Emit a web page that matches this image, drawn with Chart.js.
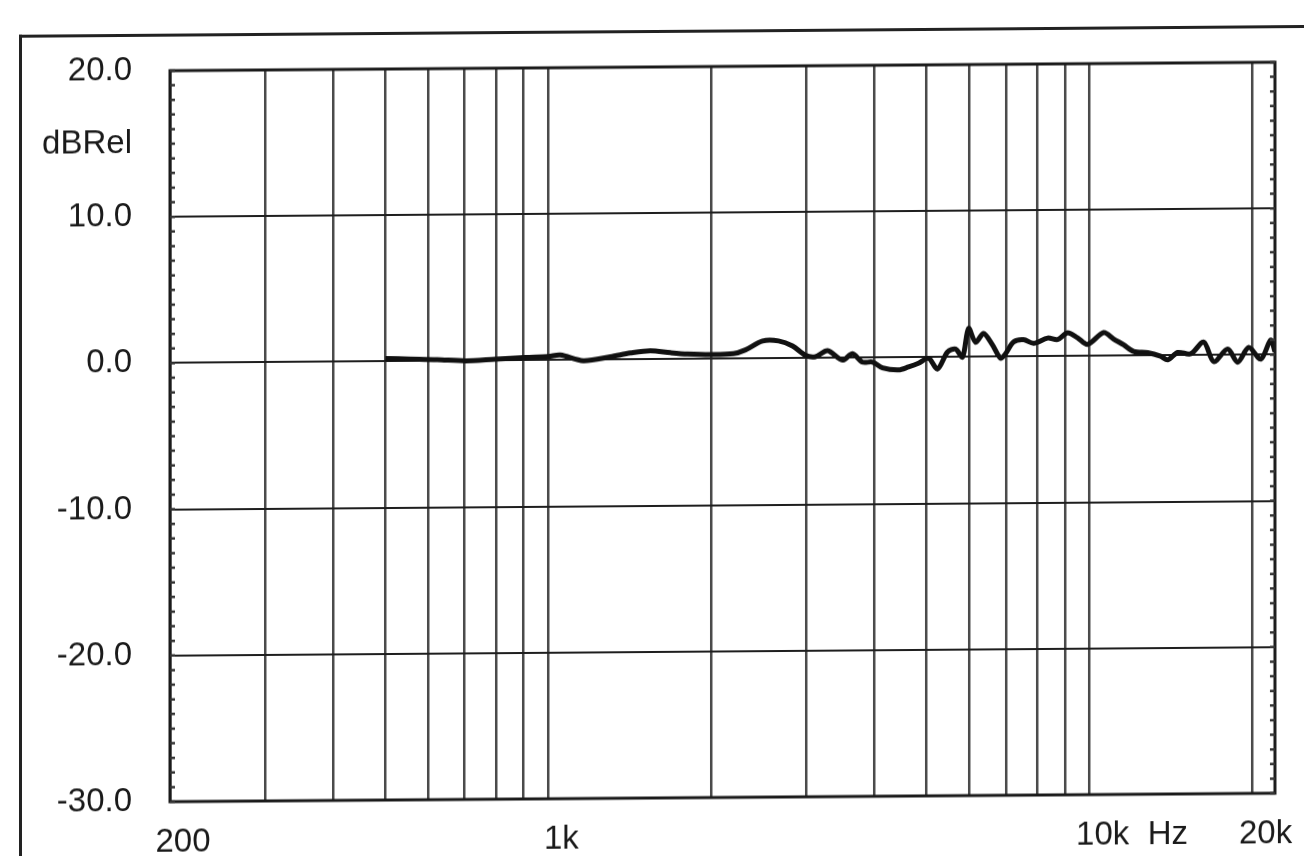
<!DOCTYPE html>
<html>
<head>
<meta charset="utf-8">
<script src="https://cdn.jsdelivr.net/npm/chart.js@4"></script>
<style>
  html, body { margin: 0; padding: 0; background: #fff; overflow: hidden; }
  #wrap {
    position: relative;
    width: 1304px;
    height: 856px;
    transform: skewY(-0.44deg);
    transform-origin: 652px 428px;
  }
  #frame {
    position: absolute;
    left: 19px;
    top: 30px;
    width: 1300px;
    height: 840px;
    border-left: 3px solid #222;
    border-top: 3px solid #222;
  }
  #myChart { position: absolute; left: 0; top: 0; }
</style>
</head>
<body>
<div id="wrap">
  <div id="frame"></div>
  <canvas id="myChart" width="1304" height="856"></canvas>
</div>
<script>
// Frequency response, Hz vs dBRel
const freqs = [
  500, 556, 623, 703, 798, 907, 1000, 1052, 1160, 1302, 1418, 1543, 1681, 1807, 1993,
  2198, 2313, 2487, 2662, 2825, 2986, 3116, 3280, 3495, 3647, 3805, 3972,
  4144, 4436, 4628, 4830, 5040, 5236, 5465, 5653, 5824, 5975, 6157, 6368,
  6617, 6846, 6993, 7235, 7551, 7880, 8364, 8728, 9107, 9502, 9915, 10615,
  11075, 11556, 12059, 12800, 13528, 13940, 14545, 15375, 16248, 16955, 17992, 18774,
  19677, 20712, 21608, 22000,
];
const levels = [
  0.2, 0.15, 0.1, 0.0, 0.1, 0.2, 0.25, 0.35, -0.05, 0.2, 0.45, 0.6, 0.45, 0.35, 0.3,
  0.35, 0.6, 1.2, 1.2, 0.85, 0.2, 0.1, 0.5, -0.15, 0.28, -0.3, -0.3,
  -0.7, -0.85, -0.65, -0.4, -0.07, -0.8, 0.35, 0.55, 0.0, 1.95, 1.0, 1.6,
  0.8, -0.1, 0.2, 1.0, 1.15, 0.9, 1.25, 1.15, 1.6, 1.25, 0.8, 1.6,
  1.15, 0.75, 0.3, 0.2, -0.05, -0.3, 0.2, 0.1, 0.9, -0.45, 0.4, -0.5,
  0.5, -0.3, 1.0, 0.2,
];

// x grid lines / tick labels
const xTicks = [200, 300, 400, 500, 600, 700, 800, 900, 1000, 2000, 3000, 4000, 5000,
  6000, 7000, 8000, 9000, 10000, 13200, 20000];
const xLabels = { 200: "200", 1000: "1k", 10000: "10k", 13200: "Hz", 20000: "20k" };
const hzTick = 13200; // unit label only, no grid line

// y ticks
const yTicks = [-30, -20, -10, 0, 10, 15, 20];
const yLabels = { 20: "20.0", 15: "dBRel", 10: "10.0", 0: "0.0", "-10": "-10.0", "-20": "-20.0", "-30": "-30.0" };
const unitTick = 15;

const FONT = "'Liberation Sans', Arial, Helvetica, sans-serif";

// frame, minor dB ticks on both sides
const framePlugin = {
  id: "frame",
  afterDraw(chart) {
    const { ctx, chartArea: a, scales } = chart;
    ctx.save();
    ctx.strokeStyle = "#1a1a1a";
    ctx.lineWidth = 3;
    ctx.strokeRect(a.left, a.top, a.right - a.left, a.bottom - a.top);
    ctx.lineWidth = 2.5;
    ctx.strokeStyle = "#333";
    for (let v = -30; v <= 20; v++) {
      const y = scales.y.getPixelForValue(v);
      ctx.beginPath();
      ctx.moveTo(a.left, y);
      ctx.lineTo(a.left + 5, y);
      ctx.moveTo(a.right - 5, y);
      ctx.lineTo(a.right, y);
      ctx.stroke();
    }
    ctx.restore();
  },
};

const ctx = document.getElementById("myChart").getContext("2d");

const data = {
  datasets: [
    {
      data: freqs.map((f, i) => ({ x: f, y: levels[i] })),
      borderColor: "#111",
      borderWidth: 5,
      pointRadius: 0,
      tension: 0.3,
      fill: false,
    },
  ],
};

const config = {
  type: "line",
  data: data,
  options: {
    responsive: false,
    animation: false,
    devicePixelRatio: 1,
    layout: { padding: { left: 0, right: 29, top: 67, bottom: 0 } },
    plugins: {
      legend: { display: false },
      tooltip: { enabled: false },
    },
    scales: {
      x: {
        type: "logarithmic",
        min: 200,
        max: 22000,
        afterBuildTicks(scale) {
          scale.ticks = xTicks.map((v) => ({ value: v }));
        },
        afterFit(scale) {
          scale.height = 58;
        },
        grid: {
          drawTicks: false,
          lineWidth: 2.5,
          color: (c) => (c.tick && c.tick.value === hzTick ? "rgba(0,0,0,0)" : "#4a4a4a"),
        },
        border: { display: false },
        ticks: {
          autoSkip: false,
          maxRotation: 0,
          padding: 21,
          labelOffset: 13,
          color: "#1a1a1a",
          font: { family: FONT, size: 33 },
          callback: (value) => xLabels[value] || "",
        },
      },
      y: {
        type: "linear",
        min: -30,
        max: 20,
        afterBuildTicks(scale) {
          scale.ticks = yTicks.map((v) => ({ value: v }));
        },
        afterFit(scale) {
          scale.width = 170;
        },
        grid: {
          drawTicks: false,
          lineWidth: 2,
          color: (c) => (c.tick && c.tick.value === unitTick ? "rgba(0,0,0,0)" : "#1e1e1e"),
        },
        border: { display: false },
        ticks: {
          padding: 38,
          color: "#1a1a1a",
          font: { family: FONT, size: 33 },
          callback: (value) => yLabels[value] || "",
        },
      },
    },
  },
  plugins: [framePlugin],
};

const myChart = new Chart(ctx, config);
</script>
</body>
</html>
